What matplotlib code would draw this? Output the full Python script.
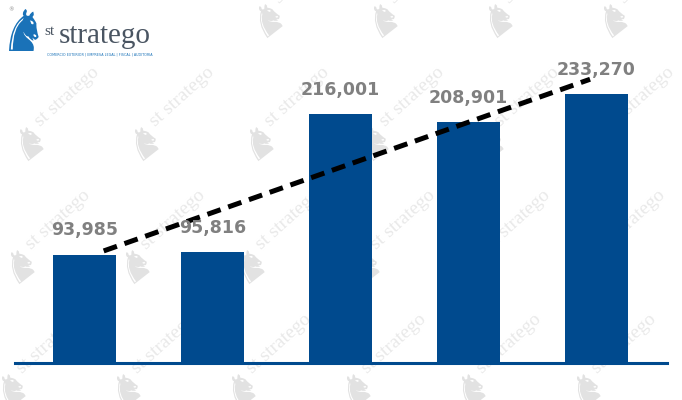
import numpy as np
import matplotlib
matplotlib.use("Agg")
import matplotlib.pyplot as plt
from matplotlib.textpath import TextPath
from matplotlib.patches import PathPatch
from matplotlib.font_manager import FontProperties
from matplotlib.transforms import Affine2D

# ---- data ----
categories = ["1", "2", "3", "4", "5"]
values = [93985, 95816, 216001, 208901, 233270]
labels = [f"{v:,}" for v in values]

BLUE = "#004a8e"
W, H = 682, 400

fig = plt.figure(figsize=(W / 100, H / 100), dpi=100)
fig.patch.set_facecolor("white")

# background axes in pixel coordinates (y measured from top)
bg = fig.add_axes([0, 0, 1, 1], zorder=0)
bg.set_xlim(0, W)
bg.set_ylim(H, 0)
bg.axis("off")

knight_path = TextPath((0, 0), "\u265E", size=1,
                       prop=FontProperties(family="DejaVu Sans"))
kv = knight_path.vertices
kx0, kx1 = kv[:, 0].min(), kv[:, 0].max()
ky0, ky1 = kv[:, 1].min(), kv[:, 1].max()
kh = ky1 - ky0


def draw_knight(ax, cx, cy, height, color, rot=0, z=1, sx=1.0):
    s = height / kh
    tr = (Affine2D()
          .translate(-(kx0 + kx1) / 2, -(ky0 + ky1) / 2)
          .scale(-s * sx, -s)     # mirror horizontally, flip for y-down axes
          .rotate_deg(-rot)
          .translate(cx, cy))
    p = PathPatch(tr.transform_path(knight_path), facecolor=color,
                  edgecolor="none", zorder=z)
    ax.add_patch(p)


# ---- watermark tiles ----
wm_rows = [17, 140, 263, 387]
for i, ry in enumerate(wm_rows):
    for j in range(7):
        cx = 40 - 9 * i + 115 * j
        if i == 0 and cx < 200:
            continue
        if cx > W + 10:
            continue
        draw_knight(bg, cx, ry, 30, "#e2e2e2", rot=38)
        bg.text(cx + 9, ry - 13, "st stratego", fontsize=14,
                color="#e9e9e9", rotation=42, ha="left", va="baseline",
                rotation_mode="anchor", family="Liberation Serif",
                clip_on=True)

# ---- main axes ----
ax = fig.add_axes([15 / W, 37 / H, 652 / W, 323 / H], zorder=1)
ax.patch.set_alpha(0)
x = np.arange(len(values))
ax.bar(x, values, width=0.49, color=BLUE, zorder=2)
ax.set_xlim(-0.543, 4.551)
ax.set_ylim(0, 280000)

for i, (v, lab) in enumerate(zip(values, labels)):
    ax.annotate(lab, (i, v), xytext=(0, 11), textcoords="offset points",
                ha="center", va="bottom", fontsize=12.5, fontweight="bold",
                color="#808080", zorder=4)

coef = np.polyfit(x, values, 1)
xs = np.array([0.15, 3.95])
ax.plot(xs, np.polyval(coef, xs), color="black", lw=3.6,
        linestyle=(0, (2.8, 1.6)), dash_capstyle="butt", zorder=3)

for s in ["top", "right", "left"]:
    ax.spines[s].set_visible(False)
ax.spines["bottom"].set_color(BLUE)
ax.spines["bottom"].set_linewidth(2.2)
ax.set_xticks([])
ax.set_yticks([])

# ---- logo (on a top layer) ----
top = fig.add_axes([0, 0, 1, 1], zorder=2)
top.set_xlim(0, W)
top.set_ylim(H, 0)
top.axis("off")
top.patch.set_alpha(0)
draw_knight(top, 28, 30, 42, "#1a72b8", rot=0, z=5, sx=0.9)
top.text(11, 10, "\u00AE", fontsize=4, color="#888888",
         ha="center", va="center")
top.text(44, 35, "st", fontsize=11, color="#4a5562",
         ha="left", va="baseline", family="Liberation Serif")
top.text(59, 43, "stratego", fontsize=21, color="#4a5562",
         ha="left", va="baseline", family="Liberation Serif")
top.text(100, 54, "COMERCIO EXTERIOR | EMPRESA LEGAL | FISCAL | AUDITORIA",
         fontsize=2.4, color="#1a72b8", ha="center", va="center")

fig.savefig("out.png", dpi=100, facecolor="white")
